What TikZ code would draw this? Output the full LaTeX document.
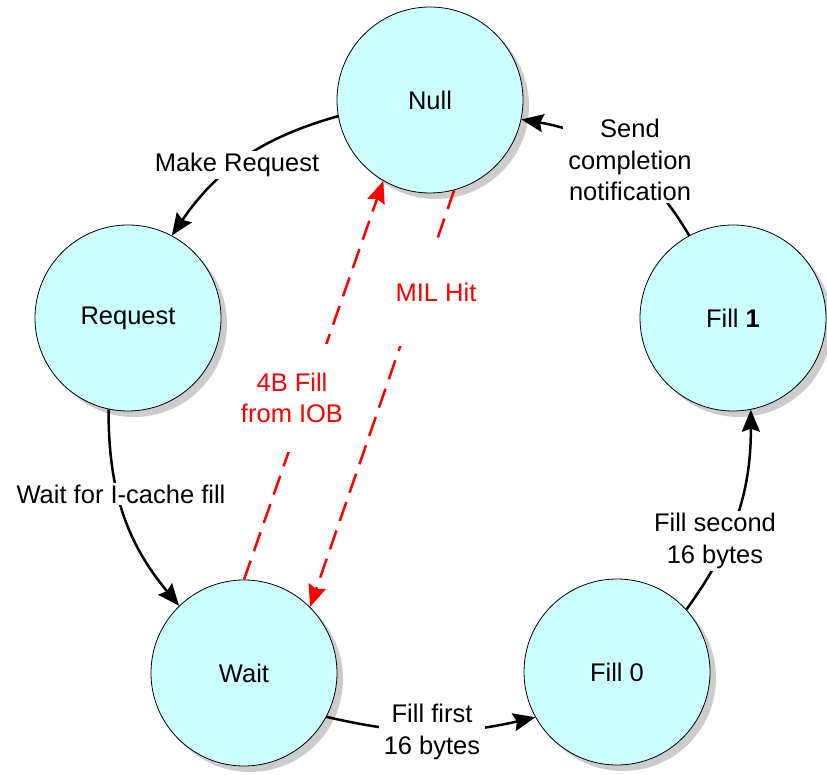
\documentclass[tikz,border=0pt]{standalone}
\usepackage{fontspec}
\setmainfont{Liberation Sans}
\usetikzlibrary{shadows,arrows.meta}
\definecolor{stateCyan}{RGB}{204,255,255}

\begin{document}
\begin{tikzpicture}[x=1pt,y=1pt,
  txt/.style={font=\fontsize{25.5}{31.5}\selectfont},
  state/.style={circle, draw=black, line width=0.8pt, fill=stateCyan,
    minimum size=186pt, inner sep=0pt, txt,
    drop shadow={opacity=1, fill=black!20, shadow xshift=6pt, shadow yshift=-6pt}},
  trans/.style={line width=2.5pt, -{Stealth[length=22pt,width=18pt,inset=3pt]}},
  alt/.style={trans, red, dash pattern=on 20pt off 10pt},
  lbl/.style={txt, fill=white, inner xsep=5pt, inner ysep=2pt, align=center},
  altlbl/.style={lbl, text=red, minimum height=108pt},
]
\path[use as bounding box, fill=white] (0,0) rectangle (827,774);

% states
\node[state] (null)  at (430,674) {Null};
\node[state] (req)   at (128,456) {Request};
\node[state] (wait)  at (244,101) {Wait};
\node[state] (fill0) at (617,102) {Fill 0};
\node[state] (fill1) at (733,456) {Fill \textbf{1}};

% main transitions
\draw[trans] (null.190)  to[bend right=20] (req.62);
\draw[trans] (req.258)   to[bend right=20] (wait.134);
\draw[trans] (wait.332)  to[bend right=13] (fill0.209);
\draw[trans] (fill0.42)  to[bend right=18] (fill1.281);
\draw[trans] (fill1.118) to[bend right=25] (null.348);

% shortcut transitions
\draw[alt] (wait.90)  -- (null.240);
\draw[alt] (null.285) -- (wait.45);

% labels
\node[lbl] (lmake) at (237,609) {Make Request};
\node[lbl] (lwait) at (121,280) {Wait for I-cache fill};
\node[lbl] (lf0)   at (432,42)  {Fill first\\16 bytes};
\node[lbl] (lf1)   at (715,233) {Fill second\\16 bytes};
\node[lbl] (lsend) at (630,614) {Send\\completion\\notification};
\node[altlbl] (liob) at (292,376) {4B Fill\\from IOB};
\node[altlbl] (lmil) at (436,482) {MIL Hit};
\end{tikzpicture}
\end{document}
